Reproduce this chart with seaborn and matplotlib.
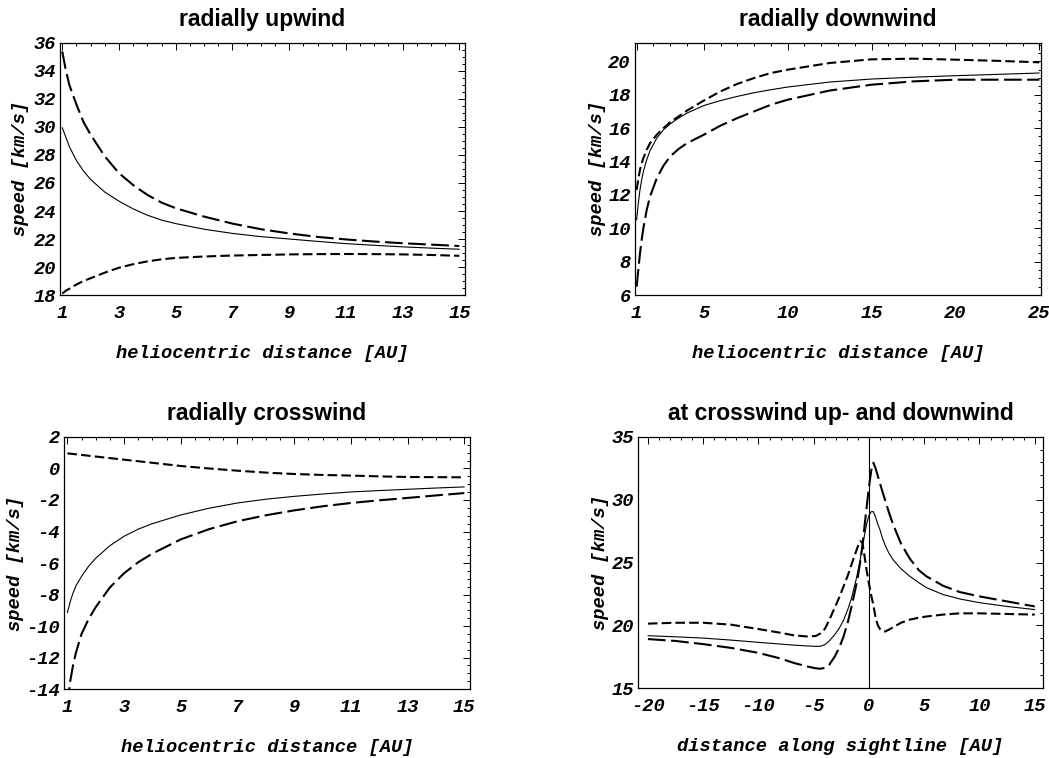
import numpy as np
import pandas as pd
import matplotlib
matplotlib.use("Agg")
import matplotlib.pyplot as plt
import seaborn as sns
from matplotlib.ticker import AutoMinorLocator, FixedLocator
from matplotlib.font_manager import FontProperties

# ---------------- data ----------------
# radially upwind
up_x = [1, 1.12, 1.25, 1.5, 1.75, 2, 2.5, 3, 3.5, 4, 4.5, 5, 6, 7, 8, 9, 10, 11, 12, 13, 14, 15]
up_solid = [29.95, 29.3, 28.6, 27.6, 26.85, 26.25, 25.35, 24.7, 24.15, 23.7, 23.35, 23.1, 22.7,
            22.4, 22.17, 22.0, 21.83, 21.67, 21.55, 21.44, 21.35, 21.27]
up_long = [35.4, 34.1, 33.0, 31.6, 30.35, 29.45, 27.9, 26.7, 25.85, 25.15, 24.6, 24.2, 23.6,
           23.1, 22.7, 22.4, 22.15, 21.97, 21.82, 21.7, 21.6, 21.5]
up_short = [18.1, 18.3, 18.45, 18.75, 19.0, 19.2, 19.6, 19.95, 20.2, 20.4, 20.55, 20.65, 20.75,
            20.82, 20.86, 20.9, 20.92, 20.93, 20.92, 20.9, 20.86, 20.8]

# radially downwind
dn_x = [1, 1.1, 1.2, 1.3, 1.4, 1.6, 1.8, 2.2, 2.6, 3, 3.5, 4, 5, 6, 7, 8, 9, 10, 12.5, 15,
        17.5, 20, 22.5, 25]
dn_solid = [10.5, 11.5, 12.3, 12.9, 13.4, 14.1, 14.65, 15.4, 15.9, 16.25, 16.6, 16.9, 17.35,
            17.65, 17.9, 18.12, 18.3, 18.46, 18.76, 18.94, 19.05, 19.14, 19.22, 19.3]
dn_short = [12.3, 12.95, 13.5, 13.9, 14.2, 14.7, 15.1, 15.6, 16.0, 16.35, 16.7, 17.05, 17.65,
            18.2, 18.65, 19.0, 19.3, 19.5, 19.9, 20.12, 20.16, 20.1, 20.03, 19.94]
dn_long = [6.5, 7.5, 8.5, 9.3, 10.0, 11.1, 11.9, 13.0, 13.75, 14.3, 14.75, 15.1, 15.6, 16.15,
           16.6, 17.0, 17.4, 17.7, 18.25, 18.6, 18.8, 18.9, 18.9, 18.9]

# radially crosswind
cr_x = [1, 1.1, 1.2, 1.3, 1.5, 1.75, 2, 2.5, 3, 3.5, 4, 5, 6, 7, 8, 9, 10, 11, 12, 13, 14, 15]
cr_solid = [-9.15, -8.45, -7.9, -7.45, -6.85, -6.2, -5.7, -4.9, -4.3, -3.85, -3.5, -2.95, -2.52,
            -2.19, -1.95, -1.77, -1.62, -1.49, -1.4, -1.32, -1.24, -1.17]
cr_long = [-15.0, -13.5, -12.5, -11.7, -10.5, -9.55, -8.8, -7.55, -6.65, -5.95, -5.4, -4.5,
           -3.85, -3.35, -2.97, -2.66, -2.4, -2.19, -2.02, -1.87, -1.71, -1.56]
cr_short = [0.96, 0.94, 0.92, 0.9, 0.86, 0.81, 0.76, 0.66, 0.56, 0.46, 0.36, 0.16, 0.0, -0.14,
            -0.26, -0.35, -0.41, -0.45, -0.5, -0.54, -0.55, -0.56]

# at crosswind up- and downwind (along sightline)
sl_x = [-20, -17.5, -15, -12.5, -10, -8, -6.8, -5.5, -4.8, -4.4, -4.0, -3.6, -3.1, -2.7, -2.3,
        -1.9, -1.6, -1.2, -1.0, -0.8, -0.6, -0.4, -0.2, 0.0, 0.2, 0.4, 0.6, 0.8, 1.0, 1.2, 1.45,
        1.8, 2.2, 2.9, 3.7, 4.5, 5.2, 6.7, 8.2, 10, 12.5, 15]
sl_solid = [19.17, 19.08, 18.98, 18.82, 18.64, 18.5, 18.42, 18.35, 18.32, 18.33, 18.45, 18.75,
            19.25, 19.75, 20.4, 21.3, 22.1, 23.5, 24.3, 25.2, 26.2, 27.2, 28.1, 28.75, 29.05,
            29.05, 28.6, 28.05, 27.6, 27.0, 26.4, 25.75, 25.2, 24.5, 23.9, 23.4, 23.0, 22.45,
            22.1, 21.8, 21.5, 21.25]
sl_long = [18.9, 18.75, 18.5, 18.2, 17.8, 17.35, 17.0, 16.7, 16.57, 16.54, 16.6, 16.85, 17.5,
           18.2, 19.1, 20.3, 21.4, 23.0, 23.9, 25.0, 26.3, 27.9, 29.5, 31.0, 32.3, 32.95, 32.5,
           31.9, 31.3, 30.7, 30.0, 29.0, 28.0, 26.5, 25.3, 24.4, 23.9, 23.15, 22.65, 22.3, 21.9,
           21.5]
sl_short = [20.13, 20.2, 20.2, 20.05, 19.7, 19.4, 19.2, 19.1, 19.15, 19.35, 19.7, 20.4, 21.4,
            22.2, 23.1, 24.0, 24.8, 25.8, 26.3, 26.7, 26.6, 25.5, 24.3, 23.3, 22.4, 21.6, 20.6,
            20.0, 19.7, 19.55, 19.5, 19.65, 19.85, 20.2, 20.45, 20.6, 20.7, 20.85, 20.95, 20.95,
            20.9, 20.85]

titles = ["radially upwind", "radially downwind", "radially crosswind",
          "at crosswind up- and downwind"]
xlabels = ["heliocentric distance [AU]", "heliocentric distance [AU]",
           "heliocentric distance [AU]", "distance along sightline [AU]"]
ylabel = "speed [km/s]"

# ---------------- style ----------------
sns.set_theme(style="white")
plt.rcParams['font.family'] = ['Liberation Sans', 'DejaVu Sans']

mono = FontProperties(family='Liberation Mono', style='italic', weight='bold', size=13.5)
title_fp = FontProperties(family='Liberation Sans', weight='bold', size=16.5)

fig = plt.figure(figsize=(10.49, 7.58), dpi=100)
positions = [
    [0.0572, 0.6108, 0.3861, 0.3325],
    [0.6053, 0.6108, 0.3871, 0.3325],
    [0.0610, 0.0910, 0.3870, 0.3325],
    [0.6082, 0.0923, 0.3861, 0.3312],
]
axes = [fig.add_axes(p) for p in positions]

SHORT = (0, (4.6, 2.0))
LONG = (0, (8.5, 2.6))


def draw(ax, x, solid, shortd, longd):
    df = pd.DataFrame({"x": x, "solid": solid, "short": shortd, "long": longd})
    sns.lineplot(data=df, x="x", y="solid", ax=ax, color="black", linewidth=0.8,
                 estimator=None, sort=False)
    sns.lineplot(data=df, x="x", y="short", ax=ax, color="black", linewidth=1.5,
                 linestyle=SHORT, estimator=None, sort=False)
    sns.lineplot(data=df, x="x", y="long", ax=ax, color="black", linewidth=1.5,
                 linestyle=LONG, estimator=None, sort=False)


draw(axes[0], up_x, up_solid, up_short, up_long)
draw(axes[1], dn_x, dn_solid, dn_short, dn_long)
draw(axes[2], cr_x, cr_solid, cr_short, cr_long)
draw(axes[3], sl_x, sl_solid, sl_short, sl_long)
axes[3].axvline(0, color="black", linewidth=0.8)

limits = [
    ((0.92, 15.2), (18, 36), [1, 3, 5, 7, 9, 11, 13, 15], np.arange(18, 37, 2), 4, 4),
    ((0.9, 25.1), (6, 21.1), [1, 5, 10, 15, 20, 25], np.arange(6, 21, 2), 5, 4),
    ((0.88, 15.2), (-14, 2), [1, 3, 5, 7, 9, 11, 13, 15], np.arange(-14, 3, 2), 4, 4),
    ((-20.9, 15.75), (15, 35), [-20, -15, -10, -5, 0, 5, 10, 15], np.arange(15, 36, 5), 5, 5),
]
ylab_x = [-0.077, -0.071, -0.0985, -0.072]

for i, ax in enumerate(axes):
    xl, yl, xt, yt, xm, ym = limits[i]
    ax.set_xlim(*xl)
    ax.set_ylim(*yl)
    ax.set_xticks(xt)
    ax.set_xticklabels([str(v) for v in xt])
    ax.set_yticks(yt)
    ax.set_yticklabels([str(int(v)) for v in yt])
    if i == 1:
        ax.xaxis.set_minor_locator(FixedLocator(np.arange(1, 26, 1)))
    else:
        ax.xaxis.set_minor_locator(AutoMinorLocator(xm))
    ax.yaxis.set_minor_locator(AutoMinorLocator(ym))
    ax.tick_params(which="both", direction="in", top=True, right=True, color="black",
                   width=0.7)
    ax.tick_params(which="major", length=5, pad=3)
    ax.tick_params(axis="x", which="major", pad=7)
    ax.tick_params(which="minor", length=2.5)
    for lbl in ax.get_xticklabels() + ax.get_yticklabels():
        lbl.set_fontproperties(mono)
        lbl.set_color("black")
    for sp in ax.spines.values():
        sp.set_visible(True)
        sp.set_color("black")
        sp.set_linewidth(0.9)
    ax.set_title(titles[i], fontproperties=title_fp, pad=12, color="black")
    ax.set_xlabel(xlabels[i], fontproperties=mono, color="black")
    ax.set_ylabel(ylabel, fontproperties=mono, color="black")
    ax.xaxis.set_label_coords(0.5, -0.2)
    ax.yaxis.set_label_coords(ylab_x[i], 0.5)
    ax.grid(False)
    ax.set_facecolor("white")

fig.savefig("out.png", dpi=100, facecolor="white")
